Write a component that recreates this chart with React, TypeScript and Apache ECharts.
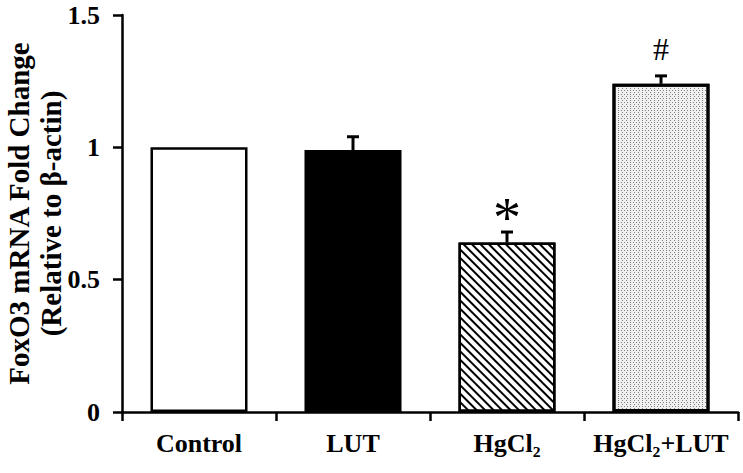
import React, { useEffect, useRef } from "react";
import * as echarts from "echarts";

const categories = ["Control", "LUT", "HgCl₂", "HgCl₂+LUT"];
const foldChange = [1.0, 0.99, 0.64, 1.24];
const errors = [0, 0.05, 0.04, 0.03];
const marks = ["", "", "*", "#"];
const yTicks = [0, 0.5, 1, 1.5];

const SERIF = '"Liberation Serif", "Times New Roman", serif';

export default function App() {
  const ref = useRef<HTMLDivElement>(null);
  useEffect(() => {
    document.body.style.margin = "0";
    const chart = echarts.init(ref.current!, undefined, { renderer: "svg" });
    const barStyles = [
      { color: "#ffffff", borderColor: "#000", borderWidth: 2.5 },
      { color: "#000000", borderColor: "#000", borderWidth: 2.5 },
      {
        color: "#ffffff",
        borderColor: "#000",
        borderWidth: 2.5,
        decal: {
          symbol: "rect",
          symbolSize: 1,
          color: "#000000",
          dashArrayX: [1, 0],
          dashArrayY: [2, 3.5],
          rotation: Math.PI / 4,
        },
      },
      {
        color: "#f0f0f0",
        borderColor: "#000",
        borderWidth: 3,
        decal: {
          symbol: "rect",
          symbolSize: 1,
          color: "#808080",
          dashArrayX: [
            [1, 2],
            [0, 1.5, 1, 0.5],
          ],
          dashArrayY: [1, 0.5],
          rotation: 0,
        },
      },
    ];
    chart.setOption({
      animation: false,
      backgroundColor: "#ffffff",
      grid: {
        left: 122,
        right: 5,
        top: 15,
        bottom: 61,
        containLabel: false,
        outerBoundsMode: "none",
      },
      xAxis: {
        type: "category",
        data: categories,
        axisLine: { lineStyle: { color: "#000", width: 2.5 } },
        axisTick: { show: true, inside: false, length: 9, lineStyle: { color: "#000", width: 2.5 } },
        axisLabel: {
          interval: 0,
          color: "#000",
          fontFamily: SERIF,
          fontWeight: "bold",
          fontSize: 26,
          margin: 18,
        },
      },
      yAxis: {
        type: "value",
        min: 0,
        max: 1.5,
        interval: 0.5,
        name: "FoxO3 mRNA Fold Change\n(Relative to β-actin)",
        nameLocation: "middle",
        nameRotate: 90,
        nameGap: 55,
        nameMoveOverlap: false,
        nameTextStyle: {
          color: "#000",
          fontFamily: SERIF,
          fontWeight: "bold",
          fontSize: 29,
          lineHeight: 32,
        },
        splitLine: { show: false },
        axisLine: { show: true, lineStyle: { color: "#000", width: 2.5 } },
        axisTick: { show: true, length: 9, lineStyle: { color: "#000", width: 2.5 } },
        axisLabel: {
          color: "#000",
          fontFamily: SERIF,
          fontWeight: "bold",
          fontSize: 26,
          margin: 22,
          formatter: (v: number) => (yTicks.includes(v) ? String(v) : ""),
        },
      },
      series: [
        {
          type: "bar",
          barCategoryGap: "37%",
          data: foldChange.map((v, i) => ({ value: v, itemStyle: barStyles[i] })),
        },
        {
          type: "custom",
          z: 5,
          data: foldChange.map((v, i) => [i, v, errors[i]]),
          renderItem: (params: any, api: any) => {
            const idx = api.value(0);
            const v = api.value(1);
            const e = api.value(2);
            const base = api.coord([idx, v]);
            const top = api.coord([idx, v + e]);
            const children: any[] = [];
            if (e > 0) {
              children.push({
                type: "line",
                shape: { x1: base[0], y1: base[1], x2: top[0], y2: top[1] },
                style: { stroke: "#000", lineWidth: 3 },
              });
              children.push({
                type: "line",
                shape: { x1: top[0] - 6, y1: top[1], x2: top[0] + 6, y2: top[1] },
                style: { stroke: "#000", lineWidth: 3 },
              });
            }
            const m = marks[params.dataIndex];
            if (m) {
              const isStar = m === "*";
              children.push({
                type: "text",
                style: {
                  text: m,
                  x: top[0],
                  y: isStar ? top[1] - 14 : top[1] - 27,
                  fill: "#000",
                  font: isStar ? `56px ${SERIF}` : `32px ${SERIF}`,
                  align: "center",
                  verticalAlign: "middle",
                },
              });
            }
            return { type: "group", children };
          },
        },
      ],
    });
    return () => chart.dispose();
  }, []);
  return (
    <div
      ref={ref}
      style={{ position: "absolute", left: 0, top: 0, width: 743, height: 473 }}
    />
  );
}
